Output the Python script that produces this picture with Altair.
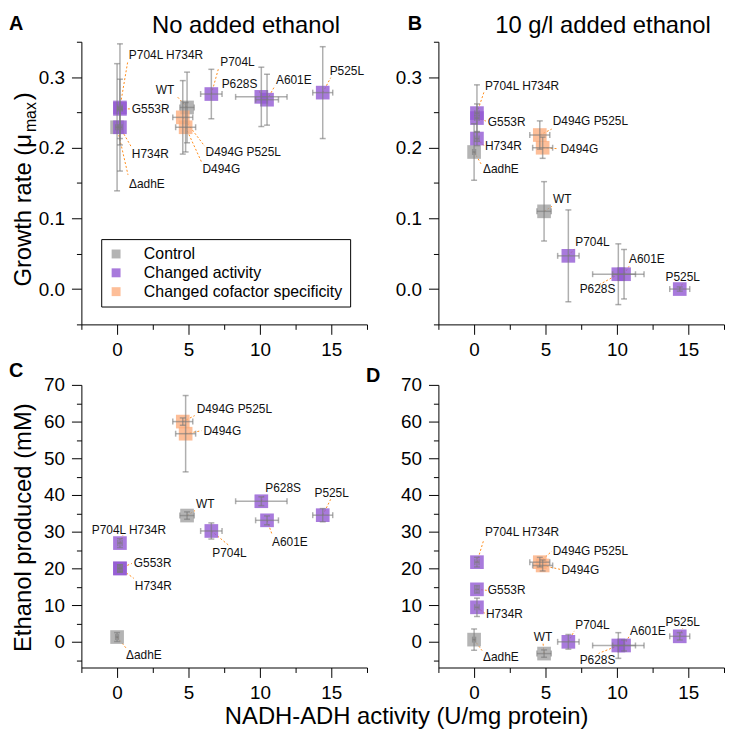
import altair as alt
import pandas as pd

# ---------------- data ----------------
strains = ["WT", "ΔadhE", "P704L H734R", "G553R", "H734R", "P704L",
           "P628S", "A601E", "P525L", "D494G", "D494G P525L"]
groups = ["Control", "Control",
          "Changed activity", "Changed activity", "Changed activity",
          "Changed activity", "Changed activity", "Changed activity",
          "Changed activity",
          "Changed cofactor specificity", "Changed cofactor specificity"]
activity = [4.9, 0.0, 0.2, 0.2, 0.2, 6.6, 10.1, 10.5, 14.4, 4.8, 4.6]
activity_err = [0.5, 0.1, 0.15, 0.15, 0.15, 0.75, 1.8, 0.8, 0.7, 0.7, 0.7]

growth_no_ethanol = [0.257, 0.229, 0.257, 0.255, 0.229, 0.276, 0.272, 0.268, 0.278, 0.229, 0.243]
growth_no_ethanol_err = [0.05, 0.09, 0.09, 0.042, 0.025, 0.035, 0.042, 0.036, 0.065, 0.035, 0.052]

growth_ethanol = [0.110, 0.194, 0.249, 0.242, 0.213, 0.047, 0.021, 0.021, 0.0, 0.200, 0.218]
growth_ethanol_err = [0.042, 0.04, 0.04, 0.02, 0.01, 0.065, 0.043, 0.035, 0.003, 0.015, 0.02]

ethanol_no_ethanol = [34.4, 1.3, 26.9, 20.0, 20.0, 30.2, 38.3, 33.1, 34.5, 56.7, 60.0]
ethanol_no_ethanol_err = [1.0, 1.2, 1.2, 1.0, 1.0, 2.2, 1.2, 1.2, 1.8, 10.4, 1.0]

ethanol_ethanol = [-3.2, 0.6, 21.7, 14.3, 9.4, 0.0, -1.0, -1.0, 1.5, 20.8, 21.7]
ethanol_ethanol_err = [1.0, 2.9, 1.3, 1.0, 2.5, 2.0, 3.5, 1.5, 1.0, 1.5, 1.3]

group_names = ["Control", "Changed activity", "Changed cofactor specificity"]
group_colors = ["#a1a1a1", "#9259d3", "#fcae7e"]

x_ticks = [-2.5, 0, 2.5, 5, 7.5, 10, 12.5, 15, 17.5]
growth_ticks = [-0.05, 0.0, 0.05, 0.1, 0.15, 0.2, 0.25, 0.3, 0.35]
ethanol_ticks = [-5, 0, 5, 10, 15, 20, 25, 30, 35, 40, 45, 50, 55, 60, 65, 70]

# label layout (pixel offsets from each point): text dx, dy, align, leader end dx, dy
layout_A = {
    "WT": (-13, -14, "right", -10, -11),
    "ΔadhE": (12, 61, "left", 11, 48),
    "P704L H734R": (9, -49, "left", 8, -47),
    "G553R": (12, 4, "left", 10, 0),
    "H734R": (12, 31, "left", 11, 19),
    "P704L": (9, -28, "left", 7, -25),
    "P628S": (-4, -9, "right", -2, -6),
    "A601E": (9, -16, "left", 8, -14),
    "P525L": (7, -18, "left", 8, -15),
    "D494G": (17, 46, "left", 16, 35),
    "D494G P525L": (23, 39, "left", 22, 29),
}
layout_B = {
    "WT": (9, -8, "left", 8, -5),
    "ΔadhE": (9, 21, "left", 7, 12),
    "P704L H734R": (8, -23, "left", 7, -21),
    "G553R": (11, 8, "left", 9, 3),
    "H734R": (8, 12, "left", 7, 7),
    "P704L": (7, -10, "left", 6, -7),
    "P628S": (-3, 19, "right", -20, 11),
    "A601E": (5, -11, "left", 5, -8),
    "P525L": (3, -8, "center", 3, -6),
    "D494G": (18, 5, "left", 16, 1),
    "D494G P525L": (13, -10, "left", 12, -6),
}
layout_C = {
    "WT": (9, -8, "left", 8, -5),
    "ΔadhE": (9, 22, "left", 9, 11),
    "P704L H734R": (9, -9, "center", 3, -8),
    "G553R": (14, -1, "left", 12, -5),
    "H734R": (15, 22, "left", 14, 10),
    "P704L": (1, 26, "left", 17, 14),
    "P628S": (4, -9, "left", 3, -7),
    "A601E": (5, 26, "left", 5, 14),
    "P525L": (9, -18, "center", 8, -16),
    "D494G": (18, 1, "left", 16, -3),
    "D494G P525L": (14, -9, "left", 12, -6),
}
layout_D = {
    "WT": (-1, -13, "center", -1, -10),
    "ΔadhE": (9, 22, "left", 8, 11),
    "P704L H734R": (8, -26, "left", 7, -23),
    "G553R": (11, 5, "left", 10, 1),
    "H734R": (9, 11, "left", 8, 6),
    "P704L": (7, -13, "left", 6, -11),
    "P628S": (-3, 19, "right", -20, 8),
    "A601E": (6, -11, "left", 5, -9),
    "P525L": (3, -10, "center", 3, -8),
    "D494G": (19, 9, "left", 18, 4),
    "D494G P525L": (13, -7, "left", 12, -11),
}

# ---------------- style ----------------
FONT = "Liberation Sans"
W, H = 288, 285
X_DOMAIN = [-2.5, 17.5]
GROWTH_DOMAIN = [-0.05, 0.35]
ETHANOL_DOMAIN = [-7, 70]
ORANGE = "#ff8c1a"
EB = "#7a7a7a"

cscale = alt.Scale(domain=group_names, range=group_colors)


def axis(values, test, fmt, orient):
    return alt.Axis(
        values=values, title=None, grid=False, orient=orient,
        labelExpr=f"({test}) ? format(datum.value, '{fmt}') : ''",
        tickSize={"condition": {"test": test, "value": 10}, "value": 5},
        labelPadding=7 if orient == "left" else 6,
        domainColor="black", tickColor="black", tickWidth=1, domainWidth=1,
        labelFont=FONT, labelFontSize=19, labelColor="black",
    )


xaxis = axis(x_ticks, "datum.value % 5 == 0", "d", "bottom")
growth_axis = axis(growth_ticks, "abs(datum.value*10 - round(datum.value*10)) < 0.001", ".1f", "left")
ethanol_axis = axis(ethanol_ticks, "datum.value % 10 == 0", "d", "left")


def make_panel(yvals, yerr, layout, ydomain, yaxis, extras, legend=None, spacers=()):
    ppx = W / (X_DOMAIN[1] - X_DOMAIN[0])
    ppy = H / (ydomain[1] - ydomain[0])
    rows = []
    for i, s in enumerate(strains):
        tx, ty, al, lx, ly = layout[s]
        x, y = activity[i], yvals[i]
        rows.append({
            "strain": s, "group": groups[i], "x": x, "y": y,
            "xlo": x - activity_err[i], "xhi": x + activity_err[i],
            "ylo": y - yerr[i], "yhi": y + yerr[i],
            "tx": x + tx / ppx, "ty": y - ty / ppy, "align": al,
            "lx": x + lx / ppx, "ly": y - ly / ppy,
        })
    df = pd.DataFrame(rows)
    xs = alt.Scale(domain=X_DOMAIN, nice=False, zero=False)
    ys = alt.Scale(domain=ydomain, nice=False, zero=False)

    def X(f):
        return alt.X(f, type="quantitative", scale=xs, axis=xaxis)

    def Y(f):
        return alt.Y(f, type="quantitative", scale=ys, axis=yaxis)

    base = alt.Chart(df)
    layers = [
        base.mark_rule(color=ORANGE, strokeDash=[2, 2], strokeWidth=1).encode(
            x=X("x"), y=Y("y"), x2="lx", y2="ly"),
        base.mark_square(size=190, opacity=0.8).encode(
            x=X("x"), y=Y("y"),
            color=alt.Color("group:N", scale=cscale, legend=legend)),
        base.mark_rule(color=EB, strokeWidth=1.5, opacity=0.6).encode(
            x=X("x"), y=Y("ylo"), y2="yhi"),
        base.mark_tick(orient="horizontal", size=6, thickness=1.5, color=EB, opacity=0.6).encode(
            x=X("x"), y=Y("ylo")),
        base.mark_tick(orient="horizontal", size=6, thickness=1.5, color=EB, opacity=0.6).encode(
            x=X("x"), y=Y("yhi")),
        base.mark_rule(color=EB, strokeWidth=1.5, opacity=0.6).encode(
            x=X("xlo"), x2="xhi", y=Y("y")),
        base.mark_tick(orient="vertical", size=6, thickness=1.5, color=EB, opacity=0.6).encode(
            x=X("xlo"), y=Y("y")),
        base.mark_tick(orient="vertical", size=6, thickness=1.5, color=EB, opacity=0.6).encode(
            x=X("xhi"), y=Y("y")),
    ]
    for al in ["left", "right", "center"]:
        sub = df[df["align"] == al]
        if len(sub):
            layers.append(
                alt.Chart(sub).mark_text(align=al, baseline="alphabetic", fontSize=12,
                                         font=FONT, color="#111111").encode(
                    x=X("tx"), y=Y("ty"), text="strain:N"))
    one = pd.DataFrame({"k": [0]})
    for (t, rx, ry, fs, fw, ang, al) in extras:
        layers.append(
            alt.Chart(one).mark_text(text=t, fontSize=fs, fontWeight=fw, angle=ang,
                                     align=al, baseline="alphabetic", font=FONT,
                                     color="black").encode(
                x=alt.value(rx), y=alt.value(ry)))
    # invisible margin keepers so no text touches the drawing's edge
    for (sx, sy) in spacers:
        layers.append(
            alt.Chart(one).mark_rule(strokeOpacity=0, strokeWidth=0.5).encode(
                x=alt.value(sx), x2=alt.value(sx + 1),
                y=alt.value(sy), y2=alt.value(sy)))
    return alt.layer(*layers).properties(width=W, height=H)


legend_A = alt.Legend(
    orient="none", legendX=20, legendY=199, title=None,
    symbolType="square", symbolSize=81, symbolOpacity=0.8, symbolStrokeWidth=0,
    labelFont=FONT, labelFontSize=16, labelColor="black", labelLimit=400,
    labelOffset=20, rowPadding=3, padding=7,
    strokeColor="black", fillColor="white",
)

panel_A = make_panel(
    growth_no_ethanol, growth_no_ethanol_err, layout_A, GROWTH_DOMAIN, growth_axis,
    [("No added ethanol", 166, -9, 24, "normal", 0, "center"),
     ("A", -73, -12, 20, "bold", 0, "left"),
     ("Growth rate (μ", -51, 170, 24, "normal", 270, "center"),
     ("max", -46, 76, 16, "normal", 270, "center"),
     (")", -51, 55, 24, "normal", 270, "center")],
    legend=legend_A, spacers=[(-74, -31)])

panel_B = make_panel(
    growth_ethanol, growth_ethanol_err, layout_B, GROWTH_DOMAIN, growth_axis,
    [("10 g/l added ethanol", 166, -9, 24, "normal", 0, "center"),
     ("B", -31, -12, 20, "bold", 0, "left")])

panel_C = make_panel(
    ethanol_no_ethanol, ethanol_no_ethanol_err, layout_C, ETHANOL_DOMAIN, ethanol_axis,
    [("C", -73, -8, 20, "bold", 0, "left"),
     ("Ethanol produced (mM)", -51, 144, 24, "normal", 270, "center"),
     ("NADH-ADH activity (U/mg protein)", 328, 342, 24, "normal", 0, "center")],
    spacers=[(0, 348)])

panel_D = make_panel(
    ethanol_ethanol, ethanol_ethanol_err, layout_D, ETHANOL_DOMAIN, ethanol_axis,
    [("D", -73, -3, 20, "bold", 0, "left")])

chart = alt.concat(
    panel_A, panel_B, panel_C, panel_D, columns=2,
    spacing=alt.RowColnumber(row=61, column=72), bounds="flush",
    padding=0,
).resolve_scale(color="independent").configure_view(stroke=None)

chart.save("out.html", embed_options={"renderer": "svg", "actions": False})
